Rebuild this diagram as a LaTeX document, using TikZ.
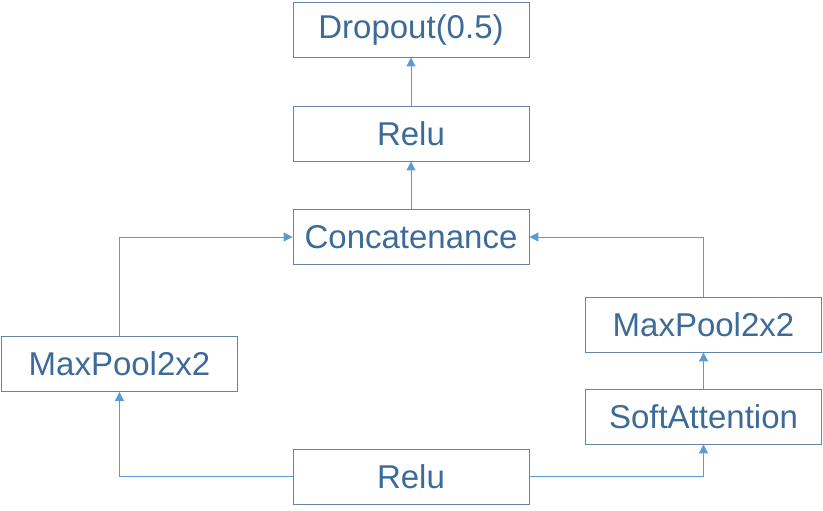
\documentclass[tikz,border=0pt]{standalone}
\usepackage{fontspec}
\setmainfont{Liberation Sans}
\usetikzlibrary{arrows.meta}
\definecolor{boxline}{HTML}{6484AA}
\definecolor{boxtext}{HTML}{3D6B99}
\definecolor{link}{HTML}{5B9BD5}
\begin{document}
\begin{tikzpicture}[x=1pt,y=-1pt,
    layer/.style={draw=boxline,line width=0.9pt,text=boxtext,minimum width=236pt,minimum height=55pt,inner sep=0pt,font=\fontsize{33}{36}\selectfont},
    flow/.style={draw=link,line width=1pt,-{Triangle[length=9pt,width=9pt]}}]
 \useasboundingbox (0,0) rectangle (823,511);
 \node[layer] (drop) at (411,29.5) {Dropout(0.5)};
 \node[layer] (relutop) at (411,133.5) {Relu};
 \node[layer] (concat) at (411,237) {Concatenance};
 \node[layer] (poolleft) at (119.5,364) {MaxPool2x2};
 \node[layer] (poolright) at (703.5,324.5) {MaxPool2x2};
 \node[layer] (soft) at (703.5,416.5) {SoftAttention};
 \node[layer] (relubot) at (411,476.5) {Relu};
 % left branch
 \draw[flow] (relubot.west) -| (poolleft.south);
 \draw[flow] (poolleft.north) |- (concat.west);
 % right branch
 \draw[flow] (relubot.east) -| (soft.south);
 \draw[flow] (soft.north) -- (poolright.south);
 \draw[flow] (poolright.north) |- (concat.east);
 % top
 \draw[flow] (concat.north) -- (relutop.south);
 \draw[flow] (relutop.north) -- (drop.south);
\end{tikzpicture}
\end{document}
